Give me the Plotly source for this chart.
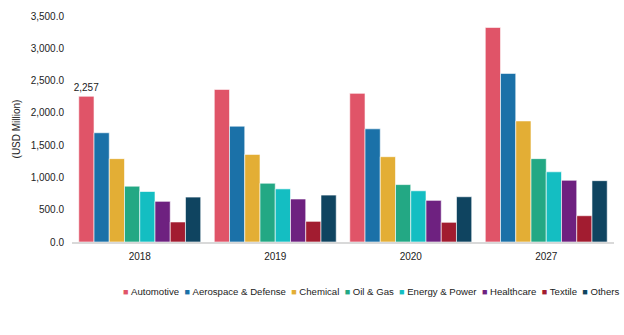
import plotly.graph_objects as go

years = ["2018", "2019", "2020", "2027"]
segments = ["Automotive", "Aerospace & Defense", "Chemical", "Oil & Gas",
            "Energy & Power", "Healthcare", "Textile", "Others"]
automotive = [2257, 2363, 2302, 3323]
aerospace = [1692, 1794, 1753, 2611]
chemical = [1291, 1357, 1321, 1875]
oil_gas = [864, 910, 889, 1291]
energy = [782, 823, 793, 1087]
healthcare = [630, 666, 645, 956]
textile = [310, 320, 305, 407]
others = [696, 727, 701, 950]
values = [automotive, aerospace, chemical, oil_gas, energy, healthcare, textile, others]
colors = ["#E05468", "#1B71A8", "#E3AE35", "#23A884", "#14BEC2", "#6E2180", "#A21C30", "#0F4460"]

# only the first Automotive bar carries a value label
auto_labels = [f"{automotive[0]:,}"] + [""] * (len(years) - 1)

fig = go.Figure()
for name, vals, c in zip(segments, values, colors):
    kw = {}
    if name == "Automotive":
        kw = dict(text=auto_labels, textposition="outside", constraintext="none",
                  cliponaxis=False,
                  outsidetextfont=dict(size=10, color="#222", family="Liberation Sans"))
    fig.add_trace(go.Bar(x=years, y=vals, name=name, showlegend=False,
                         marker=dict(color=c, line=dict(color="white", width=0.6)), **kw))

legend_text = "&nbsp;&nbsp;".join(
    f"<span style='color:{c};font-size:9px'>■</span>&nbsp;{n}" for n, c in zip(segments, colors)
)
fig.add_annotation(xref="paper", yref="paper", x=1.012, y=-0.218, xanchor="right",
                   yanchor="middle", showarrow=False, text=legend_text,
                   font=dict(size=9.6, color="#222", family="Liberation Sans"))

fig.update_layout(
    width=624, height=335,
    margin=dict(l=72, r=10, t=13, b=93),
    plot_bgcolor="white", paper_bgcolor="white",
    barmode="group", bargap=0.1, bargroupgap=0,
    font=dict(family="Liberation Sans", size=10, color="#222"),
    showlegend=False,
    xaxis=dict(type="category", showline=True, linecolor="#D9D9D9", linewidth=2, ticks="",
               tickfont=dict(size=10), ticklabelstandoff=4),
    yaxis=dict(range=[0, 3500], dtick=500, tickformat=",.1f", showgrid=False,
               zeroline=False, showline=False, ticks="", tickfont=dict(size=10),
               ticklabelstandoff=7,
               title=dict(text="(USD Million)", font=dict(size=10), standoff=8)),
)

fig.write_html("out.html")
